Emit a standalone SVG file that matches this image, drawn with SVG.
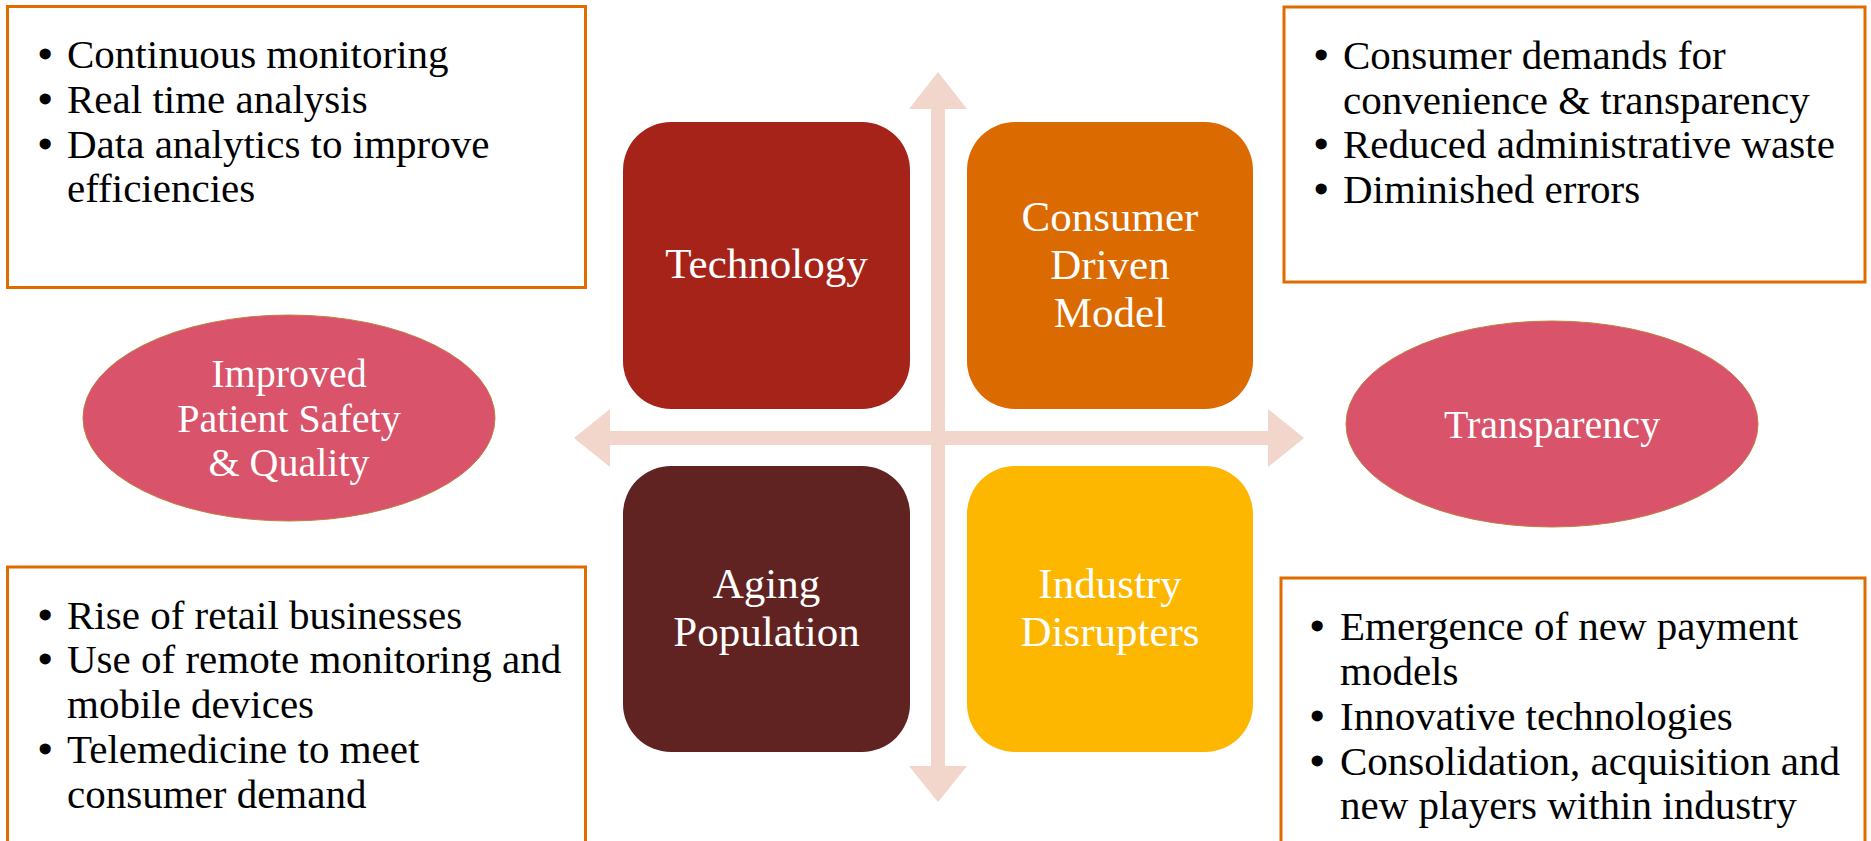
<svg xmlns="http://www.w3.org/2000/svg" width="1871" height="841" viewBox="0 0 1871 841">
<style>
.box{fill:#FFFFFF;stroke:#E06C00;stroke-width:3}
.bt{font-family:"Liberation Serif","Times New Roman",serif;font-size:41px;fill:#000000}
.bu{font-weight:bold}
.tile{stroke:none}
.tt{font-family:"Liberation Serif","Times New Roman",serif;font-size:43px;fill:#FFFFFF;text-anchor:middle}
.ell{fill:#D9536A;stroke:#C08040;stroke-width:1}
.et{font-family:"Liberation Serif","Times New Roman",serif;font-size:40px;fill:#FFFFFF;text-anchor:middle}
.arr{fill:#F2D5CB}
</style>
<rect width="1871" height="841" fill="#FFFFFF"/>
<g id="connectors">
<polygon class="arr" points="938,72 967,109 945,109 945,766 967,766 938,802 909,766 931,766 931,109 909,109"/>
<polygon class="arr" points="574,438 610,409 610,431 1268,431 1268,409 1304,438 1268,467 1268,445 610,445 610,467"/>
</g>
<g id="box-top-left">
<rect class="box" x="7.5" y="6.5" width="578" height="281"/>
<text class="bt" y="68"><tspan class="bu" x="38">•</tspan><tspan x="67">Continuous monitoring</tspan></text>
<text class="bt" y="113"><tspan class="bu" x="38">•</tspan><tspan x="67">Real time analysis</tspan></text>
<text class="bt" y="158"><tspan class="bu" x="38">•</tspan><tspan x="67">Data analytics to improve</tspan></text>
<text class="bt" x="67" y="202">efficiencies</text>
</g>
<g id="box-top-right">
<rect class="box" x="1284" y="7" width="581" height="275"/>
<text class="bt" y="69"><tspan class="bu" x="1314">•</tspan><tspan x="1343">Consumer demands for</tspan></text>
<text class="bt" x="1343" y="114">convenience &amp; transparency</text>
<text class="bt" y="158"><tspan class="bu" x="1314">•</tspan><tspan x="1343">Reduced administrative waste</tspan></text>
<text class="bt" y="203"><tspan class="bu" x="1314">•</tspan><tspan x="1343">Diminished errors</tspan></text>
</g>
<g id="box-bottom-left">
<rect class="box" x="7.5" y="567" width="578" height="290"/>
<text class="bt" y="629"><tspan class="bu" x="38">•</tspan><tspan x="67">Rise of retail businesses</tspan></text>
<text class="bt" y="673"><tspan class="bu" x="38">•</tspan><tspan x="67">Use of remote monitoring and</tspan></text>
<text class="bt" x="67" y="718">mobile devices</text>
<text class="bt" y="763"><tspan class="bu" x="38">•</tspan><tspan x="67">Telemedicine to meet</tspan></text>
<text class="bt" x="67" y="808">consumer demand</text>
</g>
<g id="box-bottom-right">
<rect class="box" x="1281" y="578" width="584" height="290"/>
<text class="bt" y="640"><tspan class="bu" x="1310">•</tspan><tspan x="1340">Emergence of new payment</tspan></text>
<text class="bt" x="1340" y="685">models</text>
<text class="bt" y="730"><tspan class="bu" x="1310">•</tspan><tspan x="1340">Innovative technologies</tspan></text>
<text class="bt" y="775"><tspan class="bu" x="1310">•</tspan><tspan x="1340">Consolidation, acquisition and</tspan></text>
<text class="bt" x="1340" y="819">new players within industry</text>
</g>
<g id="tile-technology">
<rect class="tile" x="623" y="122" width="287" height="287" rx="48" ry="48" fill="#A6231A"/>
<text class="tt" x="766.5" y="278">Technology</text>
</g>
<g id="tile-consumer">
<rect class="tile" x="967" y="122" width="286" height="287" rx="48" ry="48" fill="#DB6A00"/>
<text class="tt" y="231"><tspan x="1110">Consumer</tspan><tspan x="1110" dy="48">Driven</tspan><tspan x="1110" dy="48">Model</tspan></text>
</g>
<g id="tile-aging">
<rect class="tile" x="623" y="466" width="287" height="286" rx="48" ry="48" fill="#612222"/>
<text class="tt" y="598"><tspan x="766.5">Aging</tspan><tspan x="766.5" dy="48">Population</tspan></text>
</g>
<g id="tile-industry">
<rect class="tile" x="967" y="466" width="286" height="286" rx="48" ry="48" fill="#FDB700"/>
<text class="tt" y="598"><tspan x="1110">Industry</tspan><tspan x="1110" dy="48">Disrupters</tspan></text>
</g>
<g id="ellipse-safety">
<ellipse class="ell" cx="289" cy="418" rx="206" ry="103"/>
<text class="et" x="289" y="387">Improved</text>
<text class="et" x="289" y="432">Patient Safety</text>
<text class="et" x="289" y="476">&amp; Quality</text>
</g>
<g id="ellipse-transparency">
<ellipse class="ell" cx="1552" cy="424" rx="206" ry="103"/>
<text class="et" x="1552" y="438">Transparency</text>
</g>
</svg>
